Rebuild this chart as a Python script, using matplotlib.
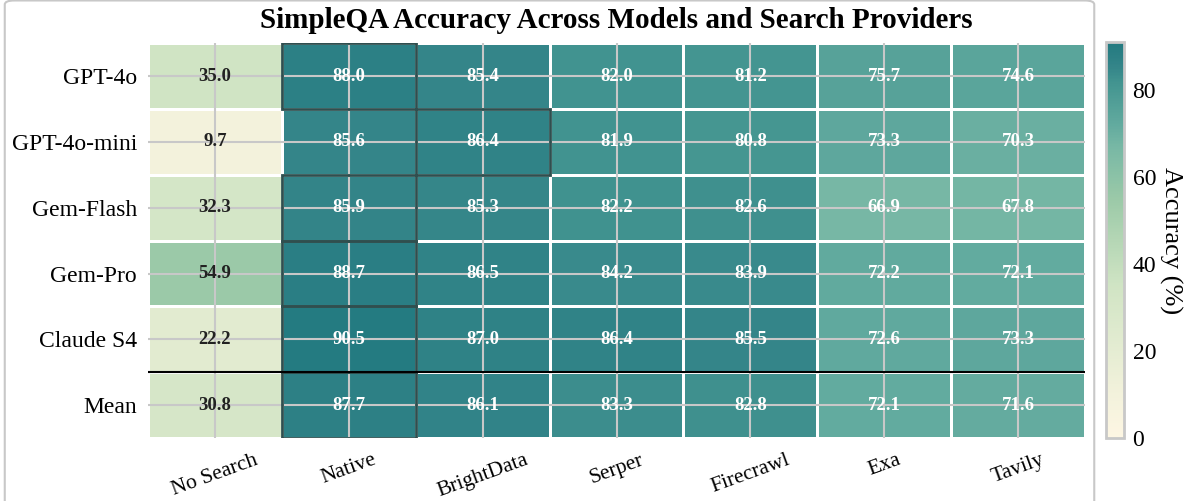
import numpy as np
import matplotlib
matplotlib.use("Agg")
import matplotlib.pyplot as plt
from matplotlib.colors import LinearSegmentedColormap
from matplotlib.patches import Rectangle, FancyBboxPatch

plt.rcParams['font.family'] = ['Liberation Serif', 'DejaVu Serif']

# Data
models = ['GPT-4o', 'GPT-4o-mini', 'Gem-Flash', 'Gem-Pro', 'Claude S4', 'Mean']
providers = ['No Search', 'Native', 'BrightData', 'Serper', 'Firecrawl', 'Exa', 'Tavily']
gpt4o = [35.0, 88.0, 85.4, 82.0, 81.2, 75.7, 74.6]
gpt4o_mini = [9.7, 85.6, 86.4, 81.9, 80.8, 73.3, 70.3]
gem_flash = [32.3, 85.9, 85.3, 82.2, 82.6, 66.9, 67.8]
gem_pro = [54.9, 88.7, 86.5, 84.2, 83.9, 72.2, 72.1]
claude_s4 = [22.2, 90.5, 87.0, 86.4, 85.5, 72.6, 73.3]
mean_row = [30.8, 87.7, 86.1, 83.3, 82.8, 72.1, 71.6]

acc = np.array([gpt4o, gpt4o_mini, gem_flash, gem_pro, claude_s4, mean_row])
nrows, ncols = acc.shape

cmap = LinearSegmentedColormap.from_list('sqa', [
    (0.0, '#fdf6e3'), (0.107, '#f3f2dc'), (0.385, '#d0e4c4'), (0.60, '#9ccaa8'),
    (0.735, '#78b8a5'), (0.79, '#63ab9f'), (0.90, '#429490'), (0.94, '#348589'),
    (1.0, '#237a80')])
vmax = 91.0

fig = plt.figure(figsize=(11.92, 5.01), dpi=100)

# rounded frame around the main panel
frame = FancyBboxPatch((0.004, -0.03), 0.914, 1.029, boxstyle='round,pad=0,rounding_size=0.008',
                       transform=fig.transFigure, fc='none', ec='#c8c8c8', lw=1.5, zorder=0)
fig.patches.append(frame)

ax = fig.add_axes([0.1242, 0.1257, 0.786, 0.788])
mesh = ax.pcolormesh(acc, cmap=cmap, vmin=0, vmax=vmax, edgecolors='white', linewidth=2)
ax.set_xlim(0, ncols)
ax.set_ylim(nrows, 0)

ax.set_xticks(np.arange(ncols) + 0.5)
ax.set_xticklabels(providers, rotation=20, fontsize=15.5)
ax.set_yticks(np.arange(nrows) + 0.5)
ax.set_yticklabels(models, fontsize=17)
ax.tick_params(length=0, pad=8)
ax.tick_params(axis='x', pad=9)
ax.grid(True, color='#c8c8c8', lw=1.5)
ax.set_axisbelow(False)
for s in ax.spines.values():
    s.set_visible(False)

for i in range(nrows):
    for j in range(ncols):
        v = acc[i, j]
        ax.text(j + 0.5, i + 0.5, f'{v:.1f}', ha='center', va='center', fontsize=13.5,
                fontweight='bold', color='white' if v > 60 else '#222222', zorder=5)
    best = int(np.argmax(acc[i]))
    ax.add_patch(Rectangle((best, i), 1, 1, fill=False, ec='#2f4f4f', lw=2, zorder=6))

ax.axhline(nrows - 1, color='black', lw=1.5, zorder=7)

ax.set_title('SimpleQA Accuracy Across Models and Search Providers', fontsize=21,
             fontweight='bold', pad=11)

cax = fig.add_axes([0.928, 0.1257, 0.0151, 0.79])
cb = fig.colorbar(mesh, cax=cax)
cb.outline.set_edgecolor('#c8c8c8')
cb.outline.set_linewidth(2)
cb.set_ticks([0, 20, 40, 60, 80])
cb.ax.tick_params(labelsize=17, length=0, pad=6)
cb.set_label('Accuracy (%)', fontsize=19, rotation=270, labelpad=19)

fig.savefig('out.png', dpi=100)
